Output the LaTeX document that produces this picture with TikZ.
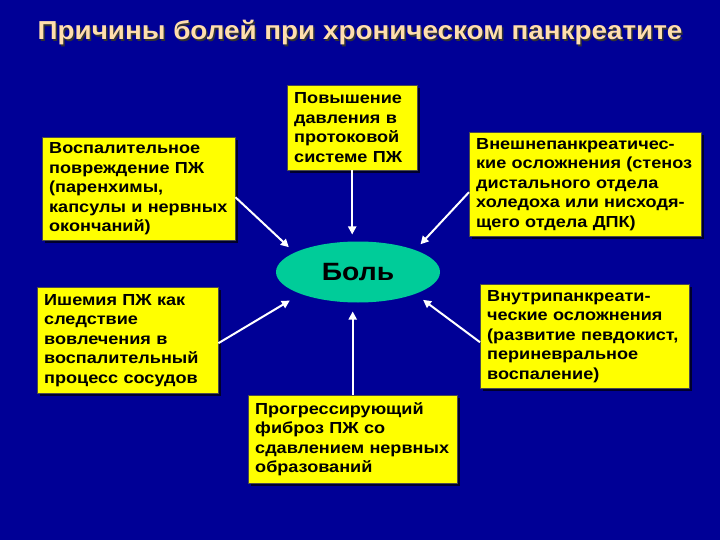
\documentclass[tikz,border=0pt]{standalone}
\usepackage{fontspec}
\setmainfont{Liberation Sans}[FakeStretch=1.13]
\newfontfamily\titlefont{Liberation Sans}[FakeStretch=1.07]
\usepackage{xcolor}
\usepackage{tikz}
\usetikzlibrary{arrows.meta,shapes.geometric,shadows}

\definecolor{bgblue}{RGB}{0,0,150}
\definecolor{boxyellow}{RGB}{255,255,0}
\definecolor{paingreen}{RGB}{0,204,153}
\definecolor{titlecol}{RGB}{255,222,173}

\begin{document}
\begin{tikzpicture}[
  x=1pt,y=-1pt,
  n/.style={fill=boxyellow,draw=black!70,line width=0.4pt,anchor=north west,align=left,
    inner xsep=7pt,inner ysep=5pt,font=\bfseries\fontsize{16}{19.5}\selectfont,
    drop shadow={shadow xshift=3pt,shadow yshift=-3pt,fill=black,opacity=0.7}},
  arr/.style={-{Triangle[length=8pt,width=8pt]},draw=white,line width=2pt}
]
\fill[bgblue] (0,0) rectangle (720,540);
\useasboundingbox (0,0) rectangle (720,540);

% title
\node[font=\titlefont\bfseries\fontsize{26}{29}\selectfont,text=black!80] (titleshade) at (361.5,34.5) {Причины болей при хроническом панкреатите};
\node[font=\titlefont\bfseries\fontsize{26}{29}\selectfont,text=titlecol] (title) at (360,33) {Причины болей при хроническом панкреатите};

% causes
\node[n,text width=179pt,minimum height=103pt] (voz) at (42,137)
  {Воспалительное\\повреждение ПЖ\\(паренхимы,\\капсулы и нервных\\окончаний)};
\node[n,text width=116pt,minimum height=85pt] (davl) at (287,85)
  {Повышение\\давления в\\протоковой\\системе ПЖ};
\node[n,text width=218pt,minimum height=104pt] (vnesh) at (469,132)
  {Внешнепанкреатичес-\\кие осложнения (стеноз\\дистального отдела\\холедоха или нисходя-\\щего отдела ДПК)};
\node[n,text width=167pt,minimum height=106pt] (ishem) at (37,287)
  {Ишемия ПЖ как\\следствие\\вовлечения в\\воспалительный\\процесс сосудов};
\node[n,text width=195pt,minimum height=104pt] (vnutr) at (480,284)
  {Внутрипанкреати-\\ческие осложнения\\(развитие певдокист,\\периневральное\\воспаление)};
\node[n,text width=195pt,minimum height=88pt] (fibroz) at (248,395)
  {Прогрессирующий\\фиброз ПЖ со\\сдавлением нервных\\образований};

% pain
\node[ellipse,fill=paingreen,minimum width=164pt,minimum height=61pt,inner sep=0pt,outer sep=0pt,
  font=\bfseries\fontsize{25}{28}\selectfont] (bol) at (358,272) {Боль};

% arrows
\draw[arr,shorten >=7pt] (davl.south) -- (davl.south |- bol.north);
\draw[arr,shorten >=9pt] (fibroz.north) -- (fibroz.north |- bol.south);
\draw[arr,shorten >=8pt] ([yshift=-8.5pt]voz.east) -- (bol.163);
\draw[arr,shorten >=8pt] ([yshift=-8pt]vnesh.west) -- (bol.21);
\draw[arr,shorten >=13pt] ([yshift=-3pt]ishem.east) -- (bol.201);
\draw[arr,shorten >=10pt] ([yshift=-6pt]vnutr.west) -- (bol.339);
\end{tikzpicture}
\end{document}
